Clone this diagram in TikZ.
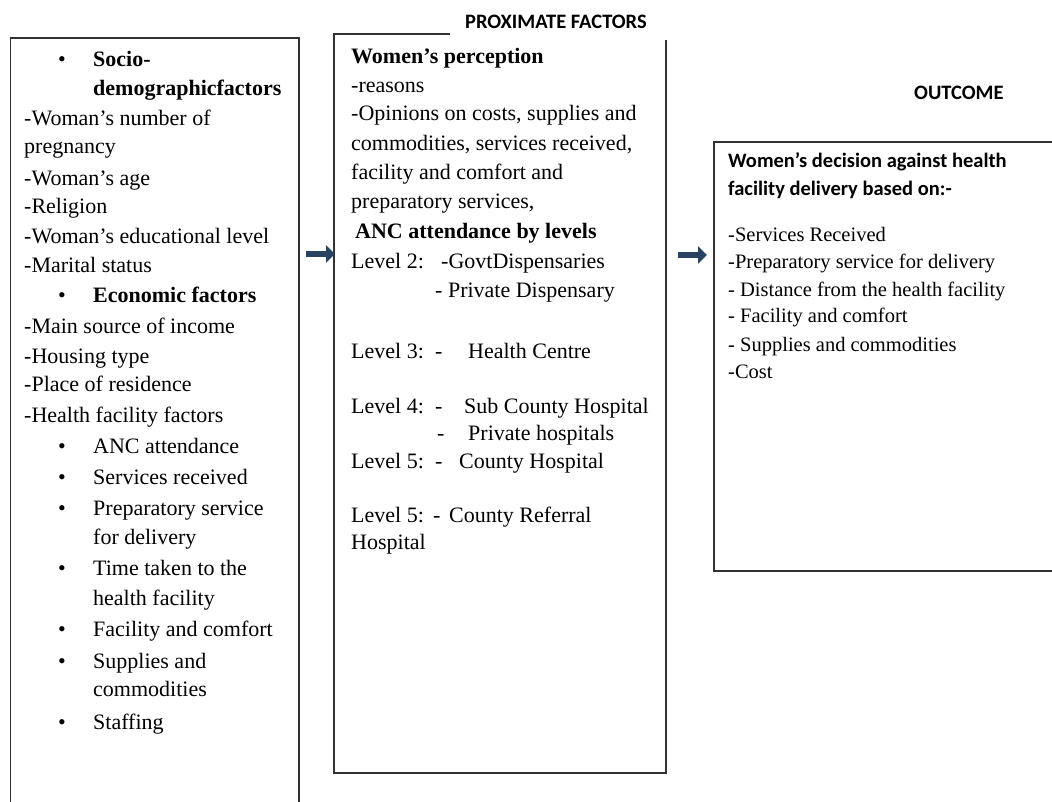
\documentclass[tikz,border=0pt]{standalone}
\usepackage{fontspec}
\setmainfont{Liberation Serif}
\newfontfamily\carlito{Carlito}
\usetikzlibrary{arrows.meta}
\definecolor{arrowblue}{RGB}{40,66,100}
\definecolor{boxline}{RGB}{50,50,50}
\begin{document}
\begin{tikzpicture}[x=1pt,y=-1pt,
  txt/.style={anchor=base west, inner sep=0pt, font=\fontsize{22}{26}\selectfont},
  btxt/.style={anchor=base west, inner sep=0pt, font=\fontsize{22}{26}\selectfont\bfseries},
  rtxt/.style={anchor=base west, inner sep=0pt, font=\fontsize{20.5}{24}\selectfont},
  ctxt/.style={anchor=base west, inner sep=0pt, font=\carlito\bfseries\fontsize{20.5}{24}\selectfont},
  frame/.style={draw=boxline, line width=1.6pt},
  barrow/.style={draw=arrowblue, line width=6pt, -{Triangle[length=9pt,width=17pt]}}]
\useasboundingbox (0,0) rectangle (1052,802);
\fill[white] (0,0) rectangle (1052,802);

% boxes
\draw[frame] (10.5,802) -- (10.5,38) -- (299,38) -- (299,802);
\draw[frame] (450,34) -- (334,34) -- (334,773) -- (666,773) -- (666,40);
\draw[frame] (1052,142) -- (714,142) -- (714,571) -- (1052,571);

% titles
\node[ctxt] (ttlprox) at (465,29) {PROXIMATE FACTORS};
\node[ctxt] (ttlout) at (914,100) {OUTCOME};

% left box
\node[txt] (lb1) at (58,66.5) {•};
\node[btxt] (l1) at (93,66.5) {Socio-};
\node[btxt] (l2) at (93,96) {demographicfactors};
\node[txt] (l3) at (24,126) {-Woman’s number of};
\node[txt] (l4) at (24,154) {pregnancy};
\node[txt] (l5) at (24,186) {-Woman’s age};
\node[txt] (l6) at (24,214) {-Religion};
\node[txt] (l7) at (24,244) {-Woman’s educational level};
\node[txt] (l8) at (24,273) {-Marital status};
\node[txt] (lb2) at (58,303) {•};
\node[btxt] (l9) at (93,303) {Economic factors};
\node[txt] (l10) at (24,333) {-Main source of income};
\node[txt] (l11) at (24,363) {-Housing type};
\node[txt] (l12) at (24,391) {-Place of residence};
\node[txt] (l13) at (24,422) {-Health facility factors};
\node[txt] (lb3) at (58,453) {•};
\node[txt] (l14) at (93,453) {ANC attendance};
\node[txt] (lb4) at (58,484) {•};
\node[txt] (l15) at (93,484) {Services received};
\node[txt] (lb5) at (58,515) {•};
\node[txt] (l16) at (93,515) {Preparatory service};
\node[txt] (l17) at (93,544) {for delivery};
\node[txt] (lb6) at (58,575) {•};
\node[txt] (l18) at (93,575) {Time taken to the};
\node[txt] (l19) at (93,605) {health facility};
\node[txt] (lb7) at (58,636) {•};
\node[txt] (l20) at (93,636) {Facility and comfort};
\node[txt] (lb8) at (58,668) {•};
\node[txt] (l21) at (93,668) {Supplies and};
\node[txt] (l22) at (93,696) {commodities};
\node[txt] (lb9) at (58,729) {•};
\node[txt] (l23) at (93,729) {Staffing};

% middle box
\node[btxt] (m1) at (351,64) {Women’s perception};
\node[txt] (m2) at (351,93) {-reasons};
\node[txt] (m3) at (351,121) {-Opinions on costs, supplies and};
\node[txt] (m4) at (351,151) {commodities, services received,};
\node[txt] (m5) at (351,180) {facility and comfort and};
\node[txt] (m6) at (351,209) {preparatory services,};
\node[btxt] (m7) at (355,239) {ANC attendance by levels};
\node[txt] (m8) at (351,269) {Level 2:};
\node[txt] (m9) at (441,269) {-GovtDispensaries};
\node[txt] (m10) at (435,298) {- Private Dispensary};
\node[txt] (m11) at (351,358) {Level 3:};
\node[txt] (m12) at (435,358) {-};
\node[txt] (m13) at (468,358) {Health Centre};
\node[txt] (m14) at (351,413) {Level 4:};
\node[txt] (m15) at (435,413) {-};
\node[txt] (m16) at (464,413) {Sub County Hospital};
\node[txt] (m17) at (437,440) {-};
\node[txt] (m18) at (468,440) {Private hospitals};
\node[txt] (m19) at (351,468) {Level 5:};
\node[txt] (m20) at (435,468) {-};
\node[txt] (m21) at (459,468) {County Hospital};
\node[txt] (m22) at (351,522) {Level 5:};
\node[txt] (m23) at (433,522) {-};
\node[txt] (m24) at (449,522) {County Referral};
\node[txt] (m25) at (351,549) {Hospital};

% right box
\node[ctxt] (r1) at (728,168) {Women’s decision against health};
\node[ctxt] (r2) at (728,196) {facility delivery based on:-};
\node[rtxt] (r3) at (728,242) {-Services Received};
\node[rtxt] (r4) at (728,269) {-Preparatory service for delivery};
\node[rtxt] (r5) at (728,297) {- Distance from the health facility};
\node[rtxt] (r6) at (728,323) {- Facility and comfort};
\node[rtxt] (r7) at (728,351) {- Supplies and commodities};
\node[rtxt] (r8) at (728,378) {-Cost};

% arrows
\coordinate (a1s) at (306,254);
\coordinate (a1e) at (335,254);
\coordinate (a2s) at (678,255);
\coordinate (a2e) at (707,255);
\draw[barrow] (a1s) -- (a1e);
\draw[barrow] (a2s) -- (a2e);
\end{tikzpicture}
\end{document}
